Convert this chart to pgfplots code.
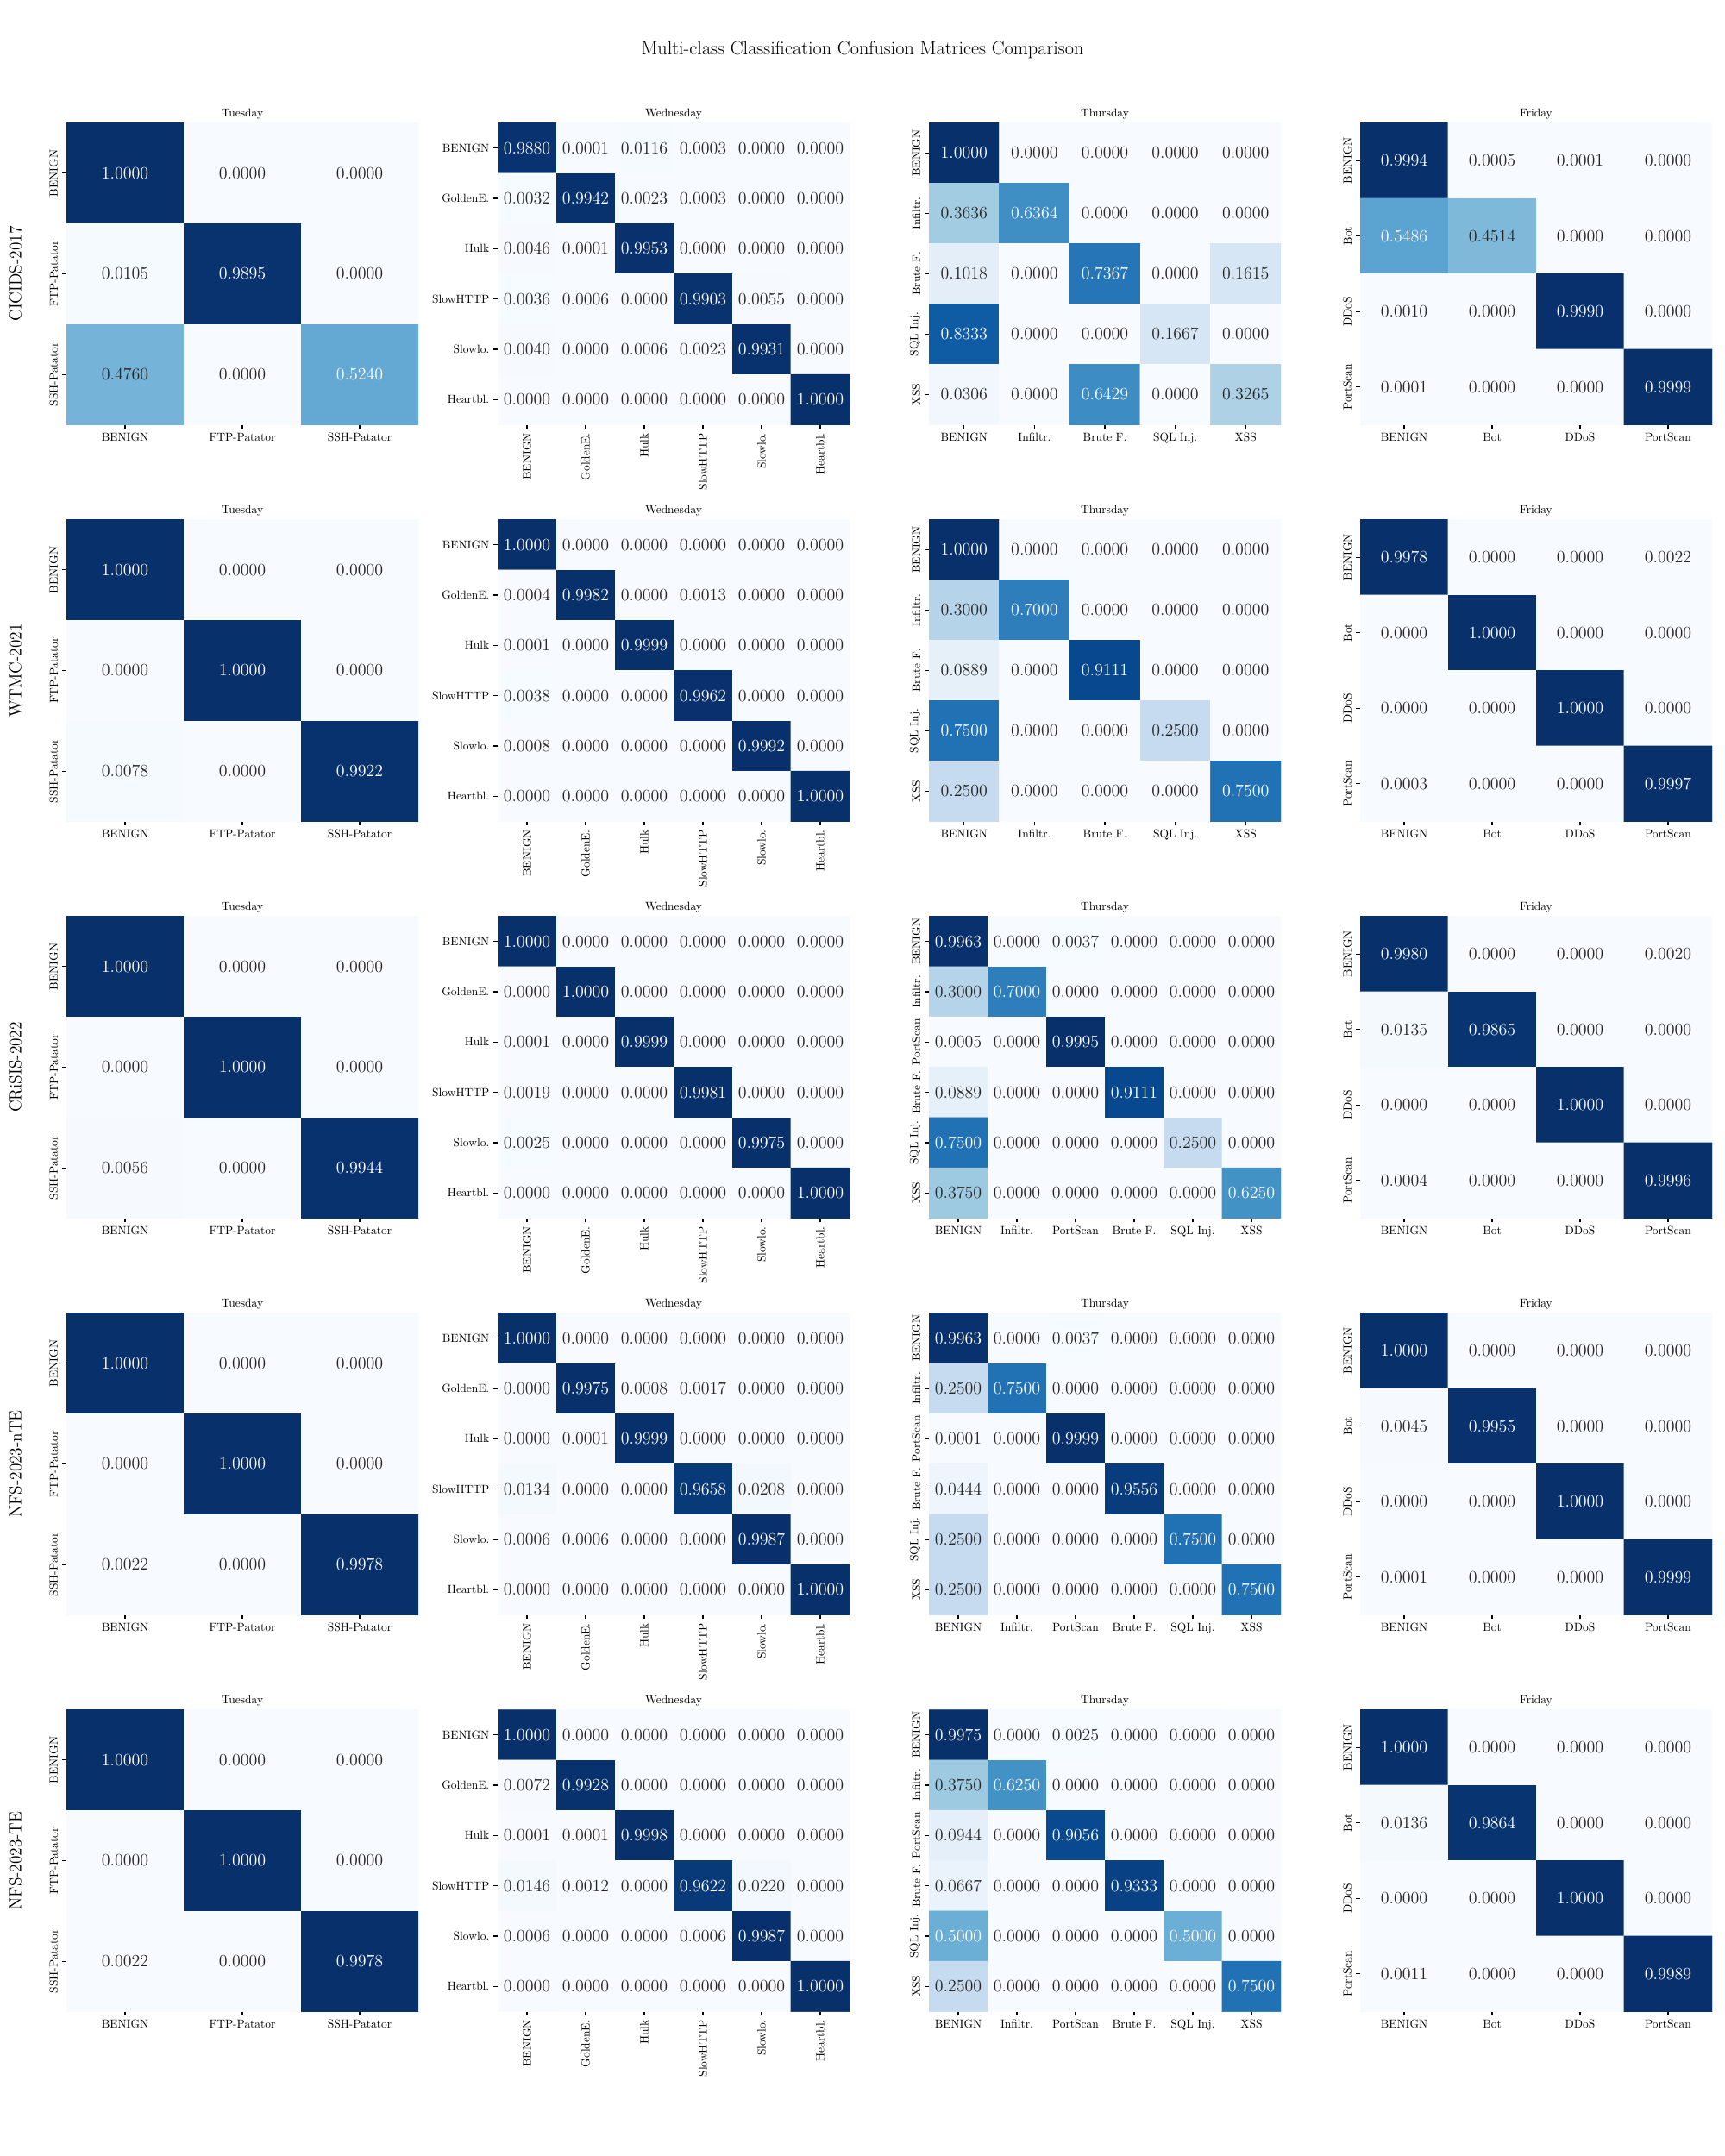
\documentclass[border=0pt]{standalone}
\usepackage{pgfplots}
\usepackage{pgfplotstable}
\pgfplotsset{compat=1.18}
\definecolor{cmdark}{gray}{0.15}
\pgfplotsset{colormap={blues}{rgb255=(247,251,255) rgb255=(222,235,247) rgb255=(198,219,239) rgb255=(158,202,225) rgb255=(107,174,214) rgb255=(66,146,198) rgb255=(33,113,181) rgb255=(8,81,156) rgb255=(8,48,107)}}
\newcommand{\tickfont}{\fontsize{9.7}{11.6}\selectfont}
\newcommand{\annfont}{\fontsize{13.75}{16}\selectfont}
\pgfplotsset{hm/.style={scale only axis, width=293.76pt, height=252pt,
  xmin=-0.5, ymax=0.5, enlargelimits=false,
  axis line style={draw=none}, tick pos=left, tick align=outside,
  major tick length=3.5pt, tick style={line width=0.8pt, black},
  colormap name=blues, point meta min=0, point meta max=1,
  ticklabel style={font=\tickfont},
  title style={font=\tickfont, inner sep=0pt, yshift=-3pt}},
  std/.style={yticklabel style={rotate=90, anchor=south}},
  wed/.style={xticklabel style={rotate=90, anchor=east}, yticklabel style={anchor=east}},
  ann/.style={draw=none, mark=none, point meta=\thisrow{v},
    nodes near coords={\pgfmathprintnumber[fixed,zerofill,precision=4]{\pgfplotspointmeta}},
    nodes near coords style={anchor=center, font=\annfont, inner sep=0pt, text=#1}}}
% #1 col, #2 row, #3 N, #4 N-1, #5 title, #6 labels, #7 table, #8 extra
\newcommand{\heat}[8]{%
\begin{axis}[hm, at={({55.44pt+360pt*#1},{-102.6pt-331.2pt*#2})}, anchor=north west,
  xmax=#4.5, ymin=-#4.5, xtick={0,...,#4}, ytick={0,-1,...,-#4},
  xticklabels={#6}, yticklabels={#6}, title={#5}, #8]
\addplot[matrix plot*, mesh/cols=#3, point meta=\thisrow{v}]
  table[x index=0, y index=0, x expr={\coordindex-#3*floor((\coordindex+0.5)/#3)}, y expr={-floor((\coordindex+0.5)/#3)}] {#7};
\addplot[ann=cmdark, restrict expr to domain={\thisrow{v}}{-1:0.49}]
  table[x index=0, y index=0, x expr={\coordindex-#3*floor((\coordindex+0.5)/#3)}, y expr={-floor((\coordindex+0.5)/#3)}] {#7};
\addplot[ann=white, restrict expr to domain={\thisrow{v}}{0.49:2}]
  table[x index=0, y index=0, x expr={\coordindex-#3*floor((\coordindex+0.5)/#3)}, y expr={-floor((\coordindex+0.5)/#3)}] {#7};
\end{axis}}
% ---------------- CICIDS-2017
\pgfplotstableread[row sep=\\]{v\\
1.0000\\0.0000\\0.0000\\
0.0105\\0.9895\\0.0000\\
0.4760\\0.0000\\0.5240\\}\tTa
\pgfplotstableread[row sep=\\]{v\\
0.9880\\0.0001\\0.0116\\0.0003\\0.0000\\0.0000\\
0.0032\\0.9942\\0.0023\\0.0003\\0.0000\\0.0000\\
0.0046\\0.0001\\0.9953\\0.0000\\0.0000\\0.0000\\
0.0036\\0.0006\\0.0000\\0.9903\\0.0055\\0.0000\\
0.0040\\0.0000\\0.0006\\0.0023\\0.9931\\0.0000\\
0.0000\\0.0000\\0.0000\\0.0000\\0.0000\\1.0000\\}\tWa
\pgfplotstableread[row sep=\\]{v\\
1.0000\\0.0000\\0.0000\\0.0000\\0.0000\\
0.3636\\0.6364\\0.0000\\0.0000\\0.0000\\
0.1018\\0.0000\\0.7367\\0.0000\\0.1615\\
0.8333\\0.0000\\0.0000\\0.1667\\0.0000\\
0.0306\\0.0000\\0.6429\\0.0000\\0.3265\\}\tHa
\pgfplotstableread[row sep=\\]{v\\
0.9994\\0.0005\\0.0001\\0.0000\\
0.5486\\0.4514\\0.0000\\0.0000\\
0.0010\\0.0000\\0.9990\\0.0000\\
0.0001\\0.0000\\0.0000\\0.9999\\}\tFa
% ---------------- WTMC-2021
\pgfplotstableread[row sep=\\]{v\\
1.0000\\0.0000\\0.0000\\
0.0000\\1.0000\\0.0000\\
0.0078\\0.0000\\0.9922\\}\tTb
\pgfplotstableread[row sep=\\]{v\\
1.0000\\0.0000\\0.0000\\0.0000\\0.0000\\0.0000\\
0.0004\\0.9982\\0.0000\\0.0013\\0.0000\\0.0000\\
0.0001\\0.0000\\0.9999\\0.0000\\0.0000\\0.0000\\
0.0038\\0.0000\\0.0000\\0.9962\\0.0000\\0.0000\\
0.0008\\0.0000\\0.0000\\0.0000\\0.9992\\0.0000\\
0.0000\\0.0000\\0.0000\\0.0000\\0.0000\\1.0000\\}\tWb
\pgfplotstableread[row sep=\\]{v\\
1.0000\\0.0000\\0.0000\\0.0000\\0.0000\\
0.3000\\0.7000\\0.0000\\0.0000\\0.0000\\
0.0889\\0.0000\\0.9111\\0.0000\\0.0000\\
0.7500\\0.0000\\0.0000\\0.2500\\0.0000\\
0.2500\\0.0000\\0.0000\\0.0000\\0.7500\\}\tHb
\pgfplotstableread[row sep=\\]{v\\
0.9978\\0.0000\\0.0000\\0.0022\\
0.0000\\1.0000\\0.0000\\0.0000\\
0.0000\\0.0000\\1.0000\\0.0000\\
0.0003\\0.0000\\0.0000\\0.9997\\}\tFb
% ---------------- CRiSIS-2022
\pgfplotstableread[row sep=\\]{v\\
1.0000\\0.0000\\0.0000\\
0.0000\\1.0000\\0.0000\\
0.0056\\0.0000\\0.9944\\}\tTc
\pgfplotstableread[row sep=\\]{v\\
1.0000\\0.0000\\0.0000\\0.0000\\0.0000\\0.0000\\
0.0000\\1.0000\\0.0000\\0.0000\\0.0000\\0.0000\\
0.0001\\0.0000\\0.9999\\0.0000\\0.0000\\0.0000\\
0.0019\\0.0000\\0.0000\\0.9981\\0.0000\\0.0000\\
0.0025\\0.0000\\0.0000\\0.0000\\0.9975\\0.0000\\
0.0000\\0.0000\\0.0000\\0.0000\\0.0000\\1.0000\\}\tWc
\pgfplotstableread[row sep=\\]{v\\
0.9963\\0.0000\\0.0037\\0.0000\\0.0000\\0.0000\\
0.3000\\0.7000\\0.0000\\0.0000\\0.0000\\0.0000\\
0.0005\\0.0000\\0.9995\\0.0000\\0.0000\\0.0000\\
0.0889\\0.0000\\0.0000\\0.9111\\0.0000\\0.0000\\
0.7500\\0.0000\\0.0000\\0.0000\\0.2500\\0.0000\\
0.3750\\0.0000\\0.0000\\0.0000\\0.0000\\0.6250\\}\tHc
\pgfplotstableread[row sep=\\]{v\\
0.9980\\0.0000\\0.0000\\0.0020\\
0.0135\\0.9865\\0.0000\\0.0000\\
0.0000\\0.0000\\1.0000\\0.0000\\
0.0004\\0.0000\\0.0000\\0.9996\\}\tFc
% ---------------- NFS-2023-nTE
\pgfplotstableread[row sep=\\]{v\\
1.0000\\0.0000\\0.0000\\
0.0000\\1.0000\\0.0000\\
0.0022\\0.0000\\0.9978\\}\tTd
\pgfplotstableread[row sep=\\]{v\\
1.0000\\0.0000\\0.0000\\0.0000\\0.0000\\0.0000\\
0.0000\\0.9975\\0.0008\\0.0017\\0.0000\\0.0000\\
0.0000\\0.0001\\0.9999\\0.0000\\0.0000\\0.0000\\
0.0134\\0.0000\\0.0000\\0.9658\\0.0208\\0.0000\\
0.0006\\0.0006\\0.0000\\0.0000\\0.9987\\0.0000\\
0.0000\\0.0000\\0.0000\\0.0000\\0.0000\\1.0000\\}\tWd
\pgfplotstableread[row sep=\\]{v\\
0.9963\\0.0000\\0.0037\\0.0000\\0.0000\\0.0000\\
0.2500\\0.7500\\0.0000\\0.0000\\0.0000\\0.0000\\
0.0001\\0.0000\\0.9999\\0.0000\\0.0000\\0.0000\\
0.0444\\0.0000\\0.0000\\0.9556\\0.0000\\0.0000\\
0.2500\\0.0000\\0.0000\\0.0000\\0.7500\\0.0000\\
0.2500\\0.0000\\0.0000\\0.0000\\0.0000\\0.7500\\}\tHd
\pgfplotstableread[row sep=\\]{v\\
1.0000\\0.0000\\0.0000\\0.0000\\
0.0045\\0.9955\\0.0000\\0.0000\\
0.0000\\0.0000\\1.0000\\0.0000\\
0.0001\\0.0000\\0.0000\\0.9999\\}\tFd
% ---------------- NFS-2023-TE
\pgfplotstableread[row sep=\\]{v\\
1.0000\\0.0000\\0.0000\\
0.0000\\1.0000\\0.0000\\
0.0022\\0.0000\\0.9978\\}\tTe
\pgfplotstableread[row sep=\\]{v\\
1.0000\\0.0000\\0.0000\\0.0000\\0.0000\\0.0000\\
0.0072\\0.9928\\0.0000\\0.0000\\0.0000\\0.0000\\
0.0001\\0.0001\\0.9998\\0.0000\\0.0000\\0.0000\\
0.0146\\0.0012\\0.0000\\0.9622\\0.0220\\0.0000\\
0.0006\\0.0000\\0.0000\\0.0006\\0.9987\\0.0000\\
0.0000\\0.0000\\0.0000\\0.0000\\0.0000\\1.0000\\}\tWe
\pgfplotstableread[row sep=\\]{v\\
0.9975\\0.0000\\0.0025\\0.0000\\0.0000\\0.0000\\
0.3750\\0.6250\\0.0000\\0.0000\\0.0000\\0.0000\\
0.0944\\0.0000\\0.9056\\0.0000\\0.0000\\0.0000\\
0.0667\\0.0000\\0.0000\\0.9333\\0.0000\\0.0000\\
0.5000\\0.0000\\0.0000\\0.0000\\0.5000\\0.0000\\
0.2500\\0.0000\\0.0000\\0.0000\\0.0000\\0.7500\\}\tHe
\pgfplotstableread[row sep=\\]{v\\
1.0000\\0.0000\\0.0000\\0.0000\\
0.0136\\0.9864\\0.0000\\0.0000\\
0.0000\\0.0000\\1.0000\\0.0000\\
0.0011\\0.0000\\0.0000\\0.9989\\}\tFe
\begin{document}
\begin{tikzpicture}
\path[use as bounding box] (0,0) rectangle (1440pt,-1800pt);
\node[font=\fontsize{16}{19}\selectfont] at (720pt,-41.5pt) {Multi-class Classification Confusion Matrices Comparison};
\foreach \lab [count=\r from 0] in {CICIDS-2017,WTMC-2021,CRiSIS-2022,NFS-2023-nTE,NFS-2023-TE}
  \node[rotate=90, font=\fontsize{13.9}{16}\selectfont] at (13pt,{-228.6pt-331.2pt*\r}) {\lab};
\heat{0}{0}{3}{2}{Tuesday}{BENIGN,FTP-Patator,SSH-Patator}{\tTa}{std}
\heat{1}{0}{6}{5}{Wednesday}{BENIGN,GoldenE.,Hulk,SlowHTTP,Slowlo.,Heartbl.}{\tWa}{wed}
\heat{2}{0}{5}{4}{Thursday}{BENIGN,Infiltr.,Brute F.,SQL Inj.,XSS}{\tHa}{std}
\heat{3}{0}{4}{3}{Friday}{BENIGN,Bot,DDoS,PortScan}{\tFa}{std}
\heat{0}{1}{3}{2}{Tuesday}{BENIGN,FTP-Patator,SSH-Patator}{\tTb}{std}
\heat{1}{1}{6}{5}{Wednesday}{BENIGN,GoldenE.,Hulk,SlowHTTP,Slowlo.,Heartbl.}{\tWb}{wed}
\heat{2}{1}{5}{4}{Thursday}{BENIGN,Infiltr.,Brute F.,SQL Inj.,XSS}{\tHb}{std}
\heat{3}{1}{4}{3}{Friday}{BENIGN,Bot,DDoS,PortScan}{\tFb}{std}
\heat{0}{2}{3}{2}{Tuesday}{BENIGN,FTP-Patator,SSH-Patator}{\tTc}{std}
\heat{1}{2}{6}{5}{Wednesday}{BENIGN,GoldenE.,Hulk,SlowHTTP,Slowlo.,Heartbl.}{\tWc}{wed}
\heat{2}{2}{6}{5}{Thursday}{BENIGN,Infiltr.,PortScan,Brute F.,SQL Inj.,XSS}{\tHc}{std}
\heat{3}{2}{4}{3}{Friday}{BENIGN,Bot,DDoS,PortScan}{\tFc}{std}
\heat{0}{3}{3}{2}{Tuesday}{BENIGN,FTP-Patator,SSH-Patator}{\tTd}{std}
\heat{1}{3}{6}{5}{Wednesday}{BENIGN,GoldenE.,Hulk,SlowHTTP,Slowlo.,Heartbl.}{\tWd}{wed}
\heat{2}{3}{6}{5}{Thursday}{BENIGN,Infiltr.,PortScan,Brute F.,SQL Inj.,XSS}{\tHd}{std}
\heat{3}{3}{4}{3}{Friday}{BENIGN,Bot,DDoS,PortScan}{\tFd}{std}
\heat{0}{4}{3}{2}{Tuesday}{BENIGN,FTP-Patator,SSH-Patator}{\tTe}{std}
\heat{1}{4}{6}{5}{Wednesday}{BENIGN,GoldenE.,Hulk,SlowHTTP,Slowlo.,Heartbl.}{\tWe}{wed}
\heat{2}{4}{6}{5}{Thursday}{BENIGN,Infiltr.,PortScan,Brute F.,SQL Inj.,XSS}{\tHe}{std}
\heat{3}{4}{4}{3}{Friday}{BENIGN,Bot,DDoS,PortScan}{\tFe}{std}
\end{tikzpicture}
\end{document}
